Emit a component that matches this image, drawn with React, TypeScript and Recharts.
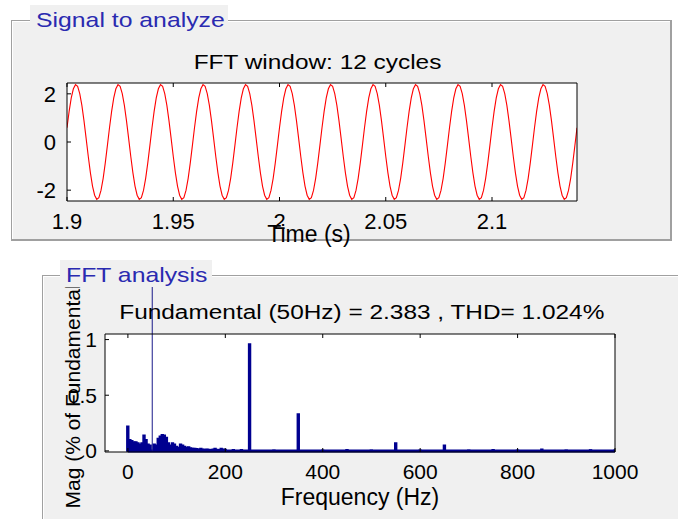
import React from "react";
import {
  LineChart,
  Line,
  BarChart,
  Bar,
  XAxis,
  YAxis,
  CartesianGrid,
  ReferenceLine,
  Label,
} from "recharts";

const FONT = '"Liberation Sans", Arial, sans-serif';
const NAVY = "#000090";
const PANEL_BLUE = "#2a2ab0";

// signal: 12 cycles of 50 Hz, sampled at 1 kHz
const cycles = 12;
const startTime = 1.9;
const sampleTime = 0.001;
const signalCycle = [
  0.59, 1.27, 1.83, 2.21, 2.38, 2.31, 2.01, 1.52, 0.88, 0.15,
  -0.59, -1.27, -1.83, -2.21, -2.38, -2.31, -2.01, -1.52, -0.88, -0.15,
];
const timeTicks = [1.9, 1.95, 2, 2.05, 2.1];
const signalTicks = [-2, 0, 2];

// spectrum (% of fundamental), fundamental itself drawn apart
const fundamentalFreq = 50;
const spectrumFreqs = [
  0, 4.2, 8.3, 12.5, 16.7, 20.8, 25, 29.2, 33.3, 37.5, 41.7, 45.8,
  54.2, 58.3, 62.5, 66.7, 70.8, 75, 79.2, 83.3, 87.5, 91.7, 95.8, 100,
  104.2, 108.3, 112.5, 116.7, 120.8, 125, 129.2, 133.3, 137.5, 141.7, 145.8, 150,
  154.2, 158.3, 162.5, 166.7, 170.8, 175, 179.2, 183.3, 187.5, 191.7, 195.8, 200,
  216.7, 233.3, 250, 300, 350, 400, 450, 500, 550, 600, 650, 700, 750, 800, 850, 900, 950, 1000,
];
const spectrumMags = [
  0.22, 0.1, 0.09, 0.08, 0.08, 0.07, 0.06, 0.07, 0.14, 0.1, 0.06, 0.05,
  0.06, 0.05, 0.11, 0.13, 0.145, 0.14, 0.12, 0.07, 0.05, 0.07, 0.06, 0.04,
  0.03, 0.06, 0.05, 0.04, 0.03, 0.035, 0.025, 0.02, 0.02, 0.018, 0.015, 0.02,
  0.015, 0.012, 0.015, 0.012, 0.01, 0.015, 0.02, 0.012, 0.01, 0.02, 0.015, 0.012,
  0.01, 0.01, 0.96, 0.005, 0.33, 0.005, 0.01, 0.005, 0.07, 0.005, 0.05, 0.005, 0.01, 0.005, 0.015, 0.005, 0.008, 0.005,
];
const freqTicks = [0, 200, 400, 600, 800, 1000];
const magTicks = [0, 0.5, 1];

const signalData: { t: number; v: number }[] = [];
for (let c = 0; c < cycles; c++) {
  signalCycle.forEach((v, k) => {
    const n = c * signalCycle.length + k;
    signalData.push({ t: +(startTime + n * sampleTime).toFixed(4), v });
  });
}
signalData.push({
  t: +(startTime + cycles * signalCycle.length * sampleTime).toFixed(4),
  v: signalCycle[0],
});

const spectrumData = spectrumFreqs.map((f, i) => ({ f, mag: spectrumMags[i] }));

const panelStyle = (left: number, top: number, width: number, height: number): React.CSSProperties => ({
  position: "absolute",
  left,
  top,
  width,
  height,
  boxSizing: "border-box",
  background: "#f0f0f0",
  borderStyle: "solid",
  borderColor: "#a0a0a0",
  borderWidth: "1px 2px 2px 1px",
  boxShadow: "inset 1px 1px 0 #ffffff",
});

const PanelTitle = ({ left, top, width, text }: { left: number; top: number; width: number; text: string }) => (
  <div
    style={{
      position: "absolute",
      left,
      top,
      width,
      height: 27,
      boxSizing: "border-box",
      padding: "3.5px 6px 0 6px",
      background: "#f0f0f0",
      color: PANEL_BLUE,
      fontSize: 21,
      lineHeight: "21px",
      whiteSpace: "nowrap",
      zIndex: 3,
    }}
  >
    <span style={{ display: "inline-block", transform: "scaleX(1.18)", transformOrigin: "left" }}>{text}</span>
  </div>
);

const ChartTitle = ({ center, top, text }: { center: number; top: number; text: string }) => (
  <div
    style={{
      position: "absolute",
      left: 0,
      top,
      width: center * 2,
      textAlign: "center",
      fontSize: 20,
      lineHeight: "20px",
      color: "#000",
      whiteSpace: "nowrap",
      zIndex: 3,
    }}
  >
    <span style={{ display: "inline-block", transform: "scaleX(1.22)" }}>{text}</span>
  </div>
);

const noLabel = () => "";

export default function App() {
  return (
    <div
      style={{
        position: "absolute",
        left: 0,
        top: 0,
        width: 678,
        height: 519,
        background: "#fff",
        overflow: "hidden",
        fontFamily: FONT,
      }}
    >
      <div style={panelStyle(11, 20, 661, 221)} />
      <div style={panelStyle(42, 275, 700, 300)} />

      {/* Signal to analyze */}
      <div style={{ position: "absolute", left: 0, top: 0, zIndex: 2 }}>
        <LineChart
          width={678}
          height={250}
          data={signalData}
          margin={{ top: 82, right: 100, bottom: 19, left: 27 }}
        >
          <CartesianGrid horizontal={false} vertical={false} fill="#fff" stroke="none" />
          <XAxis
            dataKey="t"
            type="number"
            domain={[1.9, 2.14]}
            ticks={timeTicks}
            interval={0}
            allowDataOverflow
            height={30}
            tickSize={-4}
            tickMargin={16}
            stroke="#000"
            tick={{ fontSize: 22, fill: "#000" }}
          >
            <Label value="Time (s)" position="insideBottom" offset={-11} dx={-13} fontSize={23} fill="#000" />
          </XAxis>
          <XAxis
            xAxisId="top"
            orientation="top"
            dataKey="t"
            type="number"
            domain={[1.9, 2.14]}
            ticks={timeTicks}
            interval={0}
            allowDataOverflow
            height={1}
            tickSize={-4}
            stroke="#000"
            tickFormatter={noLabel}
          />
          <YAxis
            type="number"
            domain={[-2.45, 2.45]}
            ticks={signalTicks}
            interval={0}
            allowDataOverflow
            width={40}
            tickSize={-4}
            tickMargin={15}
            stroke="#000"
            tick={{ fontSize: 22, fill: "#000" }}
          />
          <YAxis
            yAxisId="right"
            orientation="right"
            type="number"
            domain={[-2.45, 2.45]}
            ticks={signalTicks}
            interval={0}
            width={1}
            tickSize={-4}
            stroke="#000"
            tickFormatter={noLabel}
          />
          <Line
            dataKey="v"
            type="linear"
            stroke="#ff0000"
            strokeWidth={1.1}
            dot={false}
            isAnimationActive={false}
          />
        </LineChart>
      </div>

      {/* FFT analysis */}
      <div style={{ position: "absolute", left: 0, top: 255, zIndex: 2 }}>
        <BarChart
          width={678}
          height={264}
          data={spectrumData}
          margin={{ top: 78, right: 62, bottom: 37, left: 65 }}
        >
          <CartesianGrid horizontal={false} vertical={false} fill="#fff" stroke="none" />
          <XAxis
            dataKey="f"
            type="number"
            domain={[-47, 1000]}
            ticks={freqTicks}
            interval={0}
            allowDataOverflow
            height={30}
            tickSize={-4}
            tickMargin={16}
            stroke="#000"
            tick={{ fontSize: 21, fill: "#000" }}
          >
            <Label value="Frequency (Hz)" position="insideBottom" offset={-23} fontSize={23} fill="#000" />
          </XAxis>
          <XAxis
            xAxisId="top"
            orientation="top"
            dataKey="f"
            type="number"
            domain={[-47, 1000]}
            ticks={freqTicks}
            interval={0}
            allowDataOverflow
            height={1}
            tickSize={-4}
            stroke="#000"
            tickFormatter={noLabel}
          />
          <YAxis
            type="number"
            domain={[-0.01, 1.05]}
            ticks={magTicks}
            interval={0}
            allowDataOverflow
            width={40}
            tickSize={-4}
            tickMargin={12}
            stroke="#000"
            tick={{ fontSize: 21, fill: "#000" }}
          >
            <Label
              value="Mag (% of Fundamental)"
              angle={-90}
              position="insideLeft"
              offset={7.5}
              fontSize={21}
              fill="#000"
              style={{ textAnchor: "middle" }}
            />
          </YAxis>
          <YAxis
            yAxisId="right"
            orientation="right"
            type="number"
            domain={[-0.01, 1.05]}
            ticks={magTicks}
            interval={0}
            width={1}
            tickSize={-4}
            stroke="#000"
            tickFormatter={noLabel}
          />
          <Bar
            dataKey="mag"
            fill={NAVY}
            stroke={NAVY}
            strokeWidth={1.6}
            barSize={3}
            isAnimationActive={false}
          />
          <ReferenceLine
            segment={[{ x: 0, y: 0 }, { x: 1000, y: 0 }]}
            stroke={NAVY}
            strokeWidth={3}
            ifOverflow="visible"
          />
          <ReferenceLine
            segment={[{ x: fundamentalFreq, y: 0 }, { x: fundamentalFreq, y: 1.6 }]}
            stroke="#1a1a8a"
            strokeWidth={1}
            ifOverflow="visible"
          />
        </BarChart>
      </div>

      <PanelTitle left={30} top={5} width={198} text="Signal to analyze" />
      <PanelTitle left={60} top={260} width={152} text="FFT analysis" />
      <ChartTitle center={318} top={51.5} text="FFT window: 12 cycles" />
      <ChartTitle center={362} top={301.5} text="Fundamental (50Hz) = 2.383 , THD= 1.024%" />
    </div>
  );
}
